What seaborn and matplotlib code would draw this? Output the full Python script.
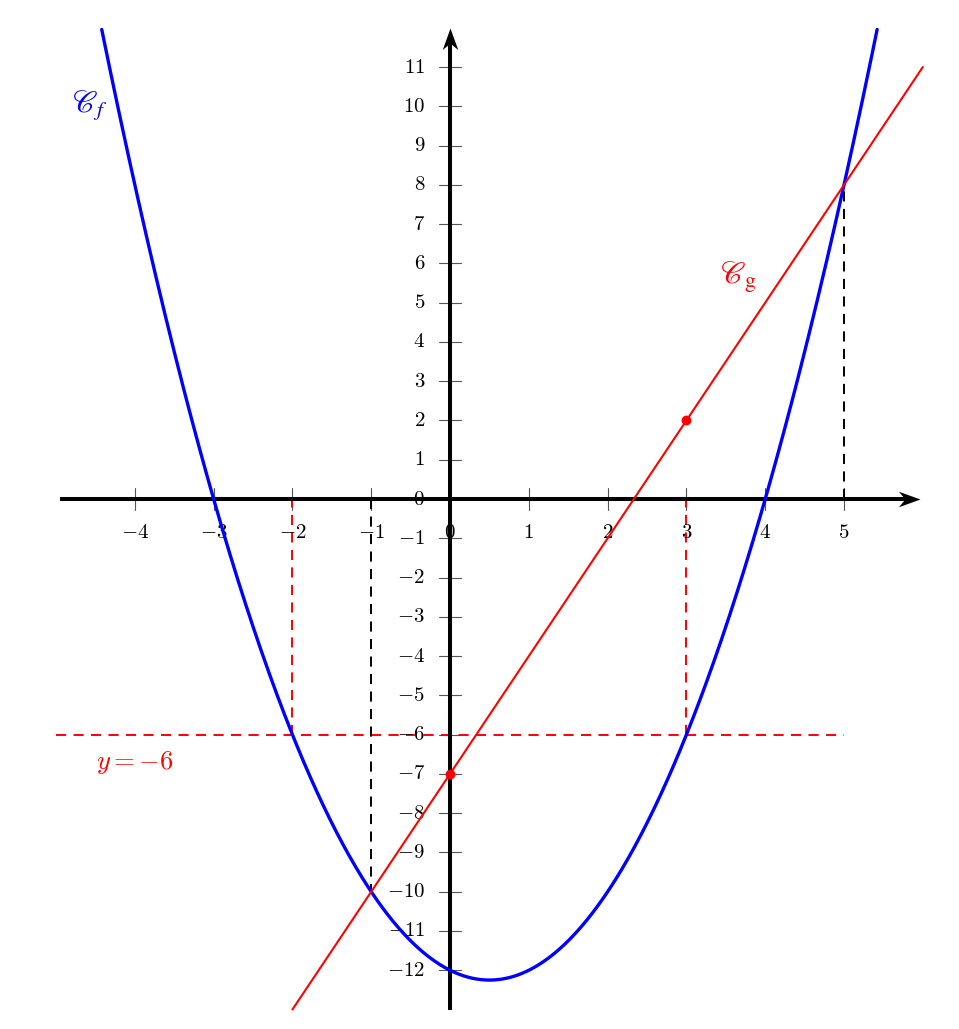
import numpy as np
import matplotlib
matplotlib.use("Agg")
import matplotlib.pyplot as plt
from matplotlib.path import Path
import seaborn as sns

# f(x) = x^2 - x - 12 and g(x) = 3x - 7
f_coefs = [1, -1, -12]
g_coefs = [3, -7]
f_xrange = [-4.42, 5.42]   # where C_f leaves the top of the frame
g_xrange = [-2.0, 6.0]

x_ticks = [-4, -3, -2, -1, 0, 1, 2, 3, 4, 5]
y_ticks = list(range(-12, 12))

# marked points on C_g
pts_x = [3, 0]
pts_y = [2, -7]

# guide lines
red_vx = [-2, 3]          # red dashed, from 0 down to y=-6
black_v = [(-1, 0, -10), (5, 0, 8)]
level = -6

sns.set_style("white")
plt.rcParams["mathtext.fontset"] = "cm"
plt.rcParams["font.family"] = ["DejaVu Serif"]
plt.rcParams["text.color"] = "black"

fig = plt.figure(figsize=(9.59, 10.29), dpi=100)
ax = fig.add_axes([0, 0, 1, 1])
ax.set_xlim(-5.711, 6.459)
ax.set_ylim(-13.496, 12.707)
ax.axis("off")

dash = (0, (5.2, 3.8))

# axes lines + stealth arrows
ax.plot([-4.95, 5.80], [0, 0], color="black", lw=2.9, solid_capstyle="butt", zorder=3)
ax.plot([0, 0], [-13.0, 11.6], color="black", lw=2.9, solid_capstyle="butt", zorder=3)
head_r = Path([(0, 0), (-1, 0.36), (-0.7, 0), (-1, -0.36), (0, 0)],
              [Path.MOVETO, Path.LINETO, Path.LINETO, Path.LINETO, Path.CLOSEPOLY])
head_u = Path([(0, 0), (0.36, -1), (0, -0.7), (-0.36, -1), (0, 0)],
              [Path.MOVETO, Path.LINETO, Path.LINETO, Path.LINETO, Path.CLOSEPOLY])
ax.plot([5.96], [0], marker=head_r, ms=31, color="black", mew=0, zorder=4)
ax.plot([0], [12.0], marker=head_u, ms=31, color="black", mew=0, zorder=4)

# tick marks and labels
for xt in x_ticks:
    ax.plot([xt, xt], [-0.28, 0.28], color="#555555", lw=0.8, zorder=2)
    ax.annotate(f"${xt}$", xy=(xt, 0), xytext=(0, -24), textcoords="offset points",
                ha="center", va="center", fontsize=15, color="black")
for yt in y_ticks:
    ax.plot([-0.14, 0.14], [yt, yt], color="#555555", lw=0.8, zorder=2)
    ax.annotate(f"${yt}$", xy=(0, yt), xytext=(-18, 0), textcoords="offset points",
                ha="right", va="center", fontsize=15, color="black")

# guide lines
ax.hlines(level, -5.0, 5.0, colors="red", lw=1.4, linestyles=dash, zorder=2)
ax.vlines(red_vx, level, 0, colors="red", lw=1.4, linestyles=dash, zorder=2)
for xv, y0, y1 in black_v:
    ax.vlines(xv, y0, y1, colors="black", lw=1.4, linestyles=dash, zorder=2)

# curves
xf = np.linspace(f_xrange[0], f_xrange[1], 600)
sns.lineplot(x=xf, y=np.polyval(f_coefs, xf), color="blue", lw=2.4, sort=False, ax=ax, zorder=5)
xg = np.array(g_xrange)
sns.lineplot(x=xg, y=np.polyval(g_coefs, xg), color="red", lw=1.5, sort=False, ax=ax, zorder=5)
sns.scatterplot(x=pts_x, y=pts_y, color="red", s=50, linewidth=0, ax=ax, zorder=6)

# labels
ax.text(-4.57, 10.0, r"$\mathscr{C}_f$", color="blue", fontsize=22,
        ha="center", va="center", math_fontfamily="stix")
ax.text(3.66, 5.65, r"$\mathscr{C}_\mathrm{g}$", color="red", fontsize=22,
        ha="center", va="center", math_fontfamily="stix")
ax.text(-4.0, -6.7, r"$y = -6$", color="red", fontsize=19, ha="center", va="center")

fig.savefig("out.png", dpi=100)
